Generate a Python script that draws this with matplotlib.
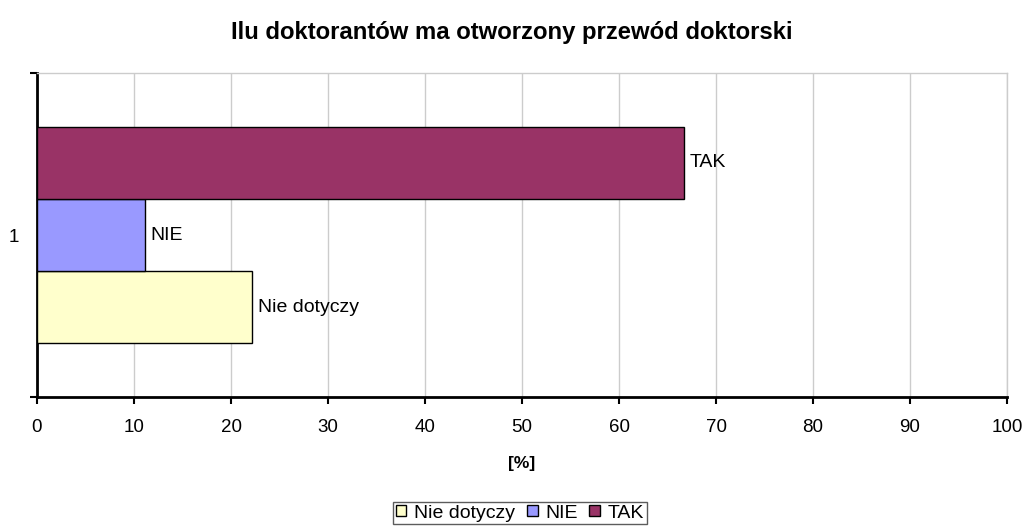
import matplotlib
matplotlib.use("Agg")
import matplotlib.pyplot as plt
from matplotlib.patches import Patch

plt.rcParams['font.family'] = ['Liberation Sans', 'DejaVu Sans']

title = "Ilu doktorantów ma otworzony przewód doktorski"
series = ["Nie dotyczy", "NIE", "TAK"]
values = [22.2, 11.1, 66.7]
colors = ["#FFFFCC", "#9999FF", "#993366"]
category = [1]
xticks = list(range(0, 101, 10))

fig = plt.figure(figsize=(10.23, 5.26), dpi=100)
ax = fig.add_axes([37/1023, 1-397/526, (1007-37)/1023, (397-73)/526])

h = 2/9
offsets = [-h, 0, h]
for name, v, c, off in zip(series, values, colors, offsets):
    ax.barh(category[0] + off, v, height=h, color=c, edgecolor="black", linewidth=1.0, zorder=3, label=name)
    ax.text(v + 0.6, category[0] + off, name, va="center", ha="left", fontsize=14, zorder=4)

ax.set_xlim(0, 100)
ax.set_ylim(0.5, 1.5)
ax.set_xticks(xticks)
ax.set_xticklabels([str(t) for t in xticks], fontsize=13.5)
ax.set_yticks([0.5, 1.5])
ax.set_yticklabels([])
ax.set_yticks([1], minor=True)
ax.set_yticklabels(["1"], minor=True, fontsize=13.5)
ax.tick_params(axis='y', which='minor', length=0, pad=13)
ax.tick_params(axis='y', which='major', length=5, width=1.5, direction='out')
ax.tick_params(axis='x', length=5, width=1.5, direction='out', pad=11)
ax.grid(axis='x', color="#CCCCCC", linewidth=1, zorder=0)
ax.set_axisbelow(True)
for s in ['top', 'right']:
    ax.spines[s].set_color("#CCCCCC")
    ax.spines[s].set_linewidth(1)
for s in ['left', 'bottom']:
    ax.spines[s].set_color("black")
    ax.spines[s].set_linewidth(2)

ax.set_xlabel("[%]", fontsize=12.5, fontweight='bold', labelpad=14)
fig.suptitle(title, fontsize=17.2, fontweight='bold', y=1-33/526, va='center')

handles = [Patch(facecolor=c, edgecolor="black", linewidth=1, label=n) for n, c in zip(series, colors)]
leg = fig.legend(handles=handles, loc='center', bbox_to_anchor=(520/1023, 1-513/526), ncol=3,
                 fontsize=14, frameon=True, fancybox=False, handlelength=0.55, handleheight=0.55,
                 handletextpad=0.4, columnspacing=0.6, borderpad=0.15, borderaxespad=0)
leg.get_frame().set_edgecolor("#333333")
leg.get_frame().set_linewidth(1)

fig.savefig("out.png", dpi=100)
